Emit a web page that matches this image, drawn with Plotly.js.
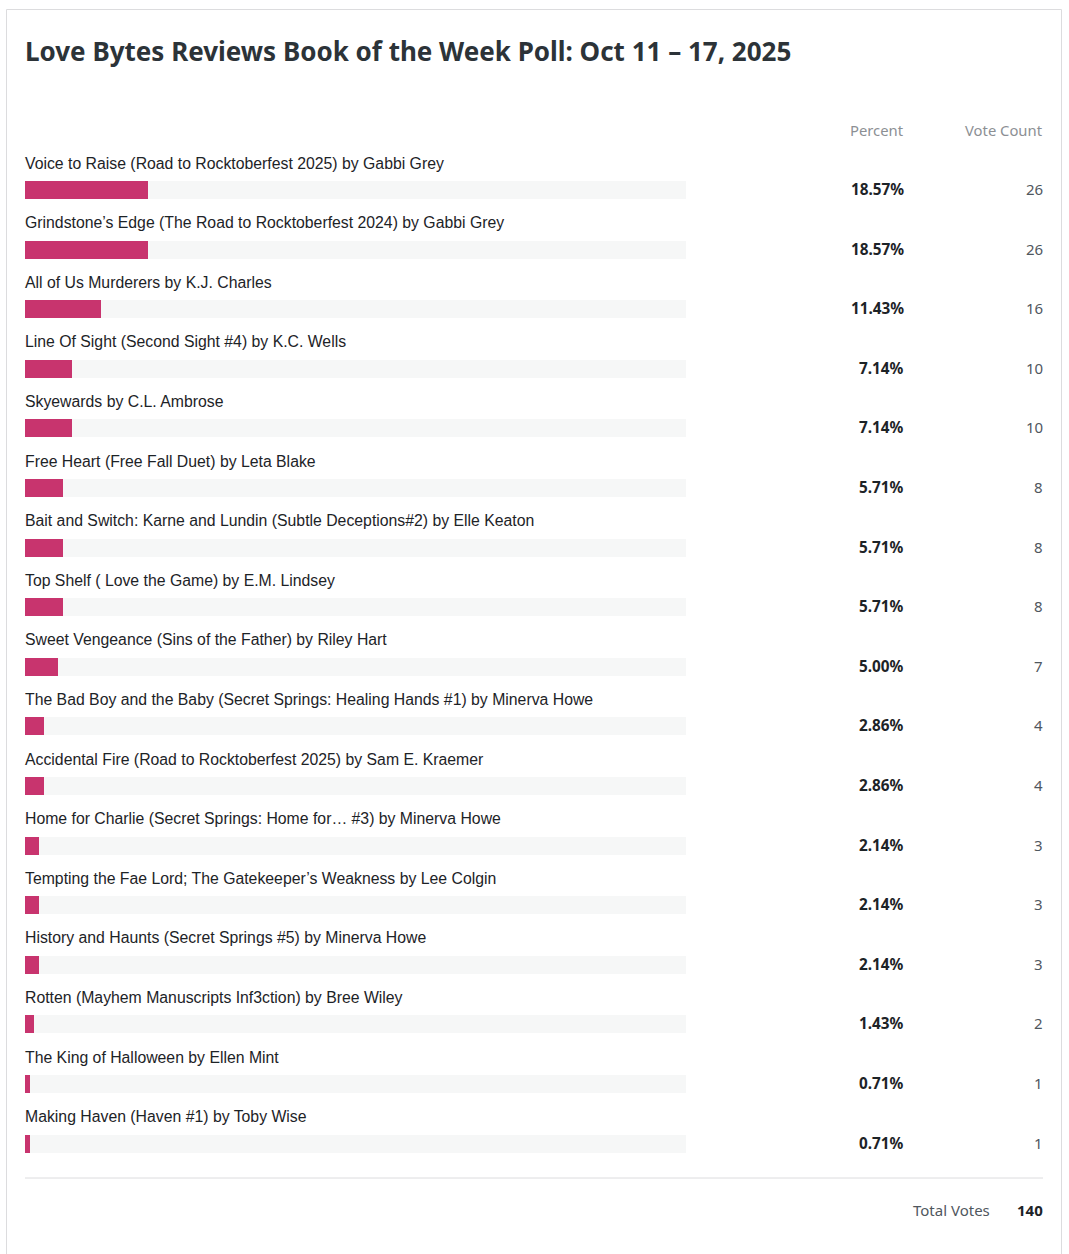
<!DOCTYPE html>
<html>
<head>
<meta charset="utf-8">
<script src="https://cdn.plot.ly/plotly-3.0.1.min.js"></script>
<style>
html,body{margin:0;padding:0;background:#fff;}
#chart{width:1069px;height:1254px;}
</style>
</head>
<body>
<div id="chart"></div>
<script>
const chartTitle = "Love Bytes Reviews Book of the Week Poll: Oct 11 – 17, 2025";
const books = [
  "Voice to Raise (Road to Rocktoberfest 2025) by Gabbi Grey",
  "Grindstone’s Edge (The Road to Rocktoberfest 2024) by Gabbi Grey",
  "All of Us Murderers by K.J. Charles",
  "Line Of Sight (Second Sight #4) by K.C. Wells",
  "Skyewards by C.L. Ambrose",
  "Free Heart (Free Fall Duet) by Leta Blake",
  "Bait and Switch: Karne and Lundin (Subtle Deceptions#2) by Elle Keaton",
  "Top Shelf ( Love the Game) by E.M. Lindsey",
  "Sweet Vengeance (Sins of the Father) by Riley Hart",
  "The Bad Boy and the Baby (Secret Springs: Healing Hands #1) by Minerva Howe",
  "Accidental Fire (Road to Rocktoberfest 2025) by Sam E. Kraemer",
  "Home for Charlie (Secret Springs: Home for… #3) by Minerva Howe",
  "Tempting the Fae Lord; The Gatekeeper’s Weakness by Lee Colgin",
  "History and Haunts (Secret Springs #5) by Minerva Howe",
  "Rotten (Mayhem Manuscripts Inf3ction) by Bree Wiley",
  "The King of Halloween by Ellen Mint",
  "Making Haven (Haven #1) by Toby Wise"
];
const percents = [18.57, 18.57, 11.43, 7.14, 7.14, 5.71, 5.71, 5.71, 5.00, 2.86, 2.86, 2.14, 2.14, 2.14, 1.43, 0.71, 0.71];
const votes = [26, 26, 16, 10, 10, 8, 8, 8, 7, 4, 4, 3, 3, 3, 2, 1, 1];
const totalVotes = 140;
const headerPercent = "Percent";
const headerVotes = "Vote Count";
const totalLabel = "Total Votes";

const W = 1069, H = 1254;
const rowStep = 59.6, firstRowPx = 190;
const idx = books.map((b, i) => i);
const yTop = -firstRowPx / rowStep;
const yBot = (H - firstRowPx) / rowStep;
const labelFont = "Liberation Sans, Arial, sans-serif";
const uiFont = "Noto Sans, Open Sans, sans-serif";

const track = {
  type: 'bar', orientation: 'h', y: idx, x: idx.map(() => 100),
  width: 18 / rowStep, marker: {color: '#f6f7f7'}, hoverinfo: 'skip', showlegend: false
};
const bars = {
  type: 'bar', orientation: 'h', y: idx, x: percents,
  width: 18 / rowStep, marker: {color: '#c8346e'}, hoverinfo: 'skip', showlegend: false
};

const ann = [];
books.forEach((b, i) => {
  ann.push({x: 23 / W, xref: 'paper', y: i - 27 / rowStep, yref: 'y', text: b, showarrow: false,
    xanchor: 'left', yanchor: 'middle', font: {family: labelFont, size: 15.8, color: '#1d2327'}});
  ann.push({x: 906 / W, xref: 'paper', y: i - 1 / rowStep, yref: 'y', text: '<b>' + percents[i].toFixed(2) + '%</b>', showarrow: false,
    xanchor: 'right', yanchor: 'middle', font: {family: uiFont, size: 15.3, color: '#1d2327'}});
  ann.push({x: 1045 / W, xref: 'paper', y: i - 1 / rowStep, yref: 'y', text: String(votes[i]), showarrow: false,
    xanchor: 'right', yanchor: 'middle', font: {family: uiFont, size: 15, color: '#50575e'}});
});
ann.push({x: 906 / W, xref: 'paper', y: 1 - 129.5 / H, yref: 'paper', text: headerPercent, showarrow: false,
  xanchor: 'right', yanchor: 'middle', font: {family: uiFont, size: 14.8, color: '#8c8f94'}});
ann.push({x: 1045 / W, xref: 'paper', y: 1 - 129.5 / H, yref: 'paper', text: headerVotes, showarrow: false,
  xanchor: 'right', yanchor: 'middle', font: {family: uiFont, size: 14.8, color: '#8c8f94'}});
ann.push({x: 992 / W, xref: 'paper', y: 1 - 1210 / H, yref: 'paper', text: totalLabel, showarrow: false,
  xanchor: 'right', yanchor: 'middle', font: {family: uiFont, size: 15, color: '#50575e'}});
ann.push({x: 1045 / W, xref: 'paper', y: 1 - 1210 / H, yref: 'paper', text: '<b>' + totalVotes + '</b>', showarrow: false,
  xanchor: 'right', yanchor: 'middle', font: {family: uiFont, size: 15, color: '#1d2327'}});

const layout = {
  width: W, height: H,
  margin: {l: 0, r: 0, t: 0, b: 0},
  paper_bgcolor: '#ffffff', plot_bgcolor: 'rgba(0,0,0,0)',
  title: {text: '<b>' + chartTitle + '</b>', x: 25 / W, xanchor: 'left', xref: 'paper',
    y: 1 - 52 / H, yanchor: 'middle', yref: 'paper',
    font: {family: uiFont, size: 26, color: '#2c3338'}},
  barmode: 'overlay', bargap: 0,
  xaxis: {domain: [25 / W, 686 / W], range: [0, 100], visible: false, fixedrange: true},
  yaxis: {domain: [0, 1], range: [yBot, yTop], visible: false, fixedrange: true},
  annotations: ann,
  shapes: [
    {type: 'rect', xref: 'paper', yref: 'paper', x0: 6.5 / W, x1: 1061.5 / W, y0: -0.05, y1: 1 - 9.5 / H,
      line: {color: '#dcdcde', width: 1}, fillcolor: 'rgba(0,0,0,0)', layer: 'below'},
    {type: 'line', xref: 'paper', yref: 'paper', x0: 25 / W, x1: 1043 / W, y0: 1 - 1178 / H, y1: 1 - 1178 / H,
      line: {color: '#dcdcde', width: 1}}
  ]
};
Plotly.newPlot('chart', [track, bars], layout, {displayModeBar: false, staticPlot: true});
</script>
</body>
</html>
